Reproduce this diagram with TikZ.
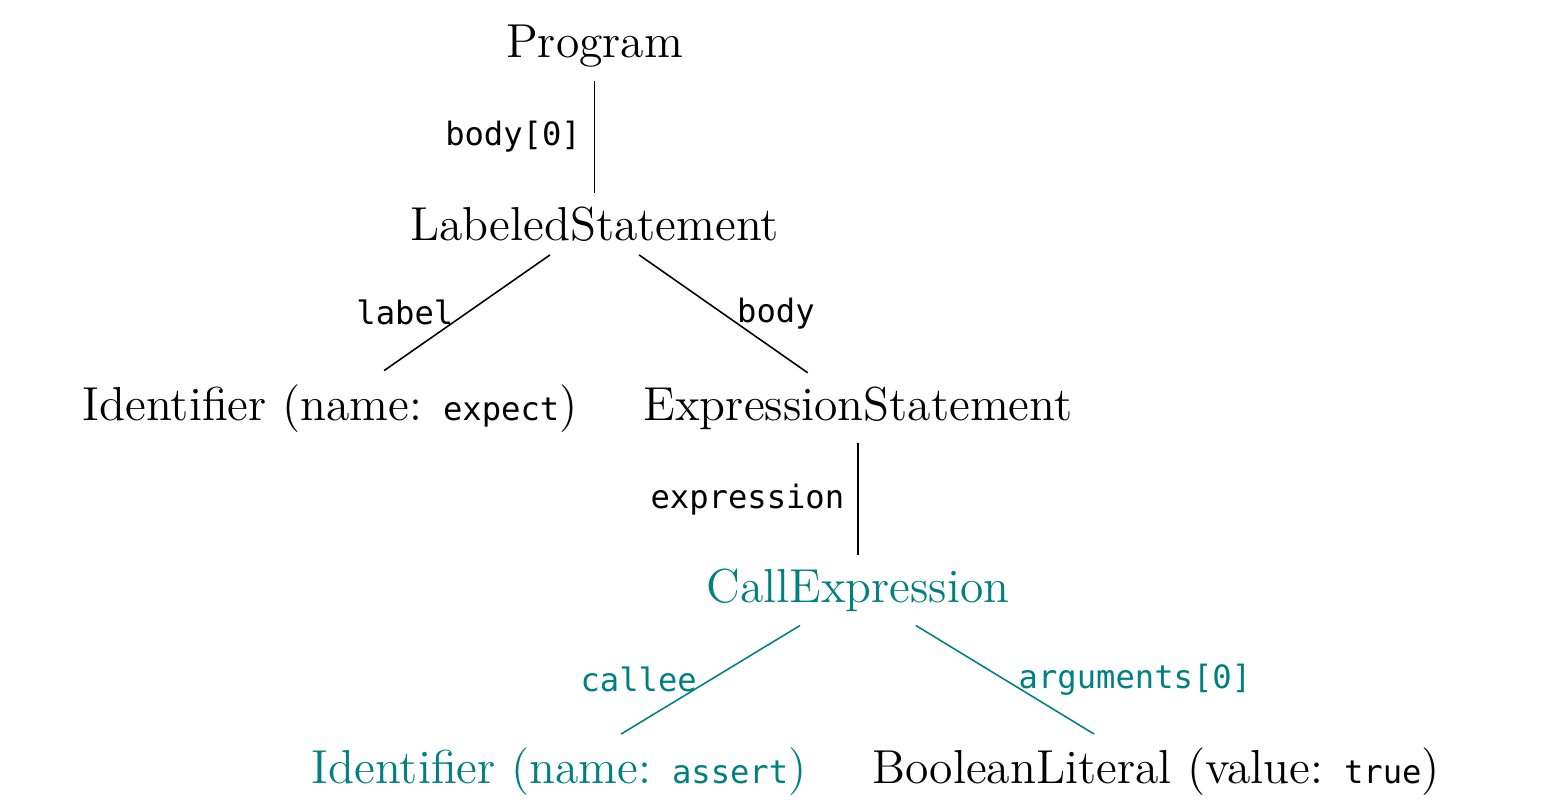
\documentclass[tikz,border=0pt]{standalone}
\usepackage{fontspec}
\setmonofont{DejaVu Sans Mono}[Scale=0.675]
\usepackage{tikz}
\usetikzlibrary{positioning}

\begin{document}
\begin{tikzpicture}[
  ast/.style={anchor=base, font=\fontsize{12.2pt}{14pt}\selectfont},
  field/.style={font=\fontsize{12.2pt}{14pt}\selectfont\ttfamily},
  hl/.style={color=teal}
]
\useasboundingbox (0,0) rectangle (14.0,-7.26);

\node[ast] (prog) at (5.35, -0.52) {Program};
\node[ast] (labstmt) at (5.35, -2.16) {LabeledStatement};
\node[ast] (ident) at (2.97, -3.78) {Identifier (name: \texttt{expect})};
\node[ast] (exprstmt) at (7.72, -3.78) {ExpressionStatement};
\node[ast, hl] (call) at (7.72, -5.42) {CallExpression};
\node[ast, hl] (callee) at (5.03, -7.05) {Identifier (name: \texttt{assert})};
\node[ast] (boollit) at (10.40, -7.05) {BooleanLiteral (value: \texttt{true})};

\draw (prog) -- (labstmt) node[midway, left, field] {body[0]};
\draw (labstmt) -- (ident) node[midway, left, field] {label};
\draw (labstmt) -- (exprstmt) node[midway, right, field] {body};
\draw (exprstmt) -- (call) node[midway, left, field] {expression};
\draw[hl] (call) -- (callee) node[midway, left, field] {callee};
\draw[hl] (call) -- (boollit) node[midway, right, field] {arguments[0]};

\end{tikzpicture}
\end{document}
